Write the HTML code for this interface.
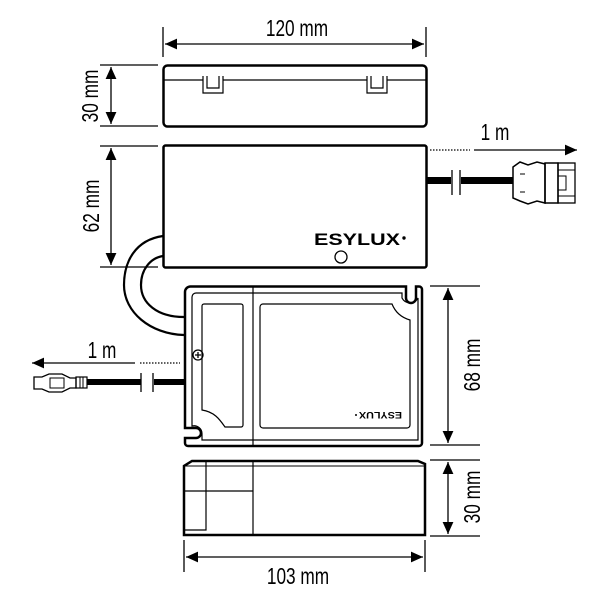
<!DOCTYPE html>
<html><head><style>
html,body{margin:0;padding:0;background:#fff;}
svg{display:block}
text{font-family:"Liberation Sans Narrow","Liberation Sans",sans-serif;fill:#000;}
</style></head><body>
<svg width="600" height="600" viewBox="0 0 600 600" xmlns="http://www.w3.org/2000/svg">
<defs>
<marker id="a" viewBox="0 0 10 10" refX="10" refY="5" markerWidth="12" markerHeight="12" markerUnits="userSpaceOnUse" orient="auto-start-reverse"><path d="M0,0.5 L10,5 L0,9.5z" fill="#000"/></marker>
</defs>
<g fill="none" stroke="#000" stroke-width="1.3">
<line x1="163" y1="27" x2="163" y2="57"/>
<line x1="426" y1="27" x2="426" y2="57"/>
<line x1="165" y1="44" x2="424" y2="44" marker-start="url(#a)" marker-end="url(#a)"/>
<line x1="100" y1="65" x2="158" y2="65"/>
<line x1="100" y1="126" x2="158" y2="126"/>
<line x1="111" y1="67" x2="111" y2="124" marker-start="url(#a)" marker-end="url(#a)"/>
<line x1="100" y1="146" x2="158" y2="146"/>
<line x1="100" y1="267" x2="158" y2="267"/>
<line x1="111" y1="148" x2="111" y2="265" marker-start="url(#a)" marker-end="url(#a)"/>
<line x1="430" y1="286" x2="480" y2="286"/>
<line x1="430" y1="445" x2="480" y2="445"/>
<line x1="448" y1="288" x2="448" y2="443" marker-start="url(#a)" marker-end="url(#a)"/>
<line x1="430" y1="460" x2="480" y2="460"/>
<line x1="430" y1="536" x2="480" y2="536"/>
<line x1="448" y1="462" x2="448" y2="534" marker-start="url(#a)" marker-end="url(#a)"/>
<line x1="184" y1="540" x2="184" y2="572"/>
<line x1="425" y1="540" x2="425" y2="572"/>
<line x1="186" y1="557" x2="423" y2="557" marker-start="url(#a)" marker-end="url(#a)"/>
<line x1="430" y1="150" x2="470" y2="150" stroke-dasharray="1.5,1.5"/>
<line x1="474" y1="150" x2="577" y2="150" marker-end="url(#a)"/>
<line x1="140" y1="363" x2="180" y2="363" stroke-dasharray="1.5,1.5"/>
<line x1="135" y1="363" x2="32" y2="363" marker-end="url(#a)"/>
</g>
<g fill="none" stroke="#000">
<rect x="163.5" y="65.5" width="263" height="61" rx="4" stroke-width="2.5"/>
<line x1="164" y1="80" x2="426" y2="80" stroke-width="1.2"/>
<path d="M203,76 V93 H223 V76 M207,76 V88 H219 V76" stroke-width="1.2" fill="#fff"/>
<path d="M367,76 V93 H387 V76 M371,76 V88 H383 V76" stroke-width="1.2" fill="#fff"/>
<rect x="163.5" y="145.5" width="263" height="122" rx="2" stroke-width="2.5"/>
<circle cx="341" cy="257" r="6" stroke-width="1.3"/>
<path d="M163,236 C135,240 124,262 124,285 C124,312 150,334 184,335" stroke-width="2.2"/>
<path d="M163,256 C150,258 141,270 141,285 C141,303 157,317 184,317" stroke-width="2.2"/>
</g>
<text x="314" y="245" font-weight="bold" font-size="17" textLength="86" lengthAdjust="spacingAndGlyphs" style="font-family:'Liberation Sans',sans-serif">ESYLUX</text>
<circle cx="404" cy="238" r="1.7" fill="#000"/>
<g stroke="#000" fill="none">
<rect x="427" y="177" width="24" height="7" fill="#000" stroke="none"/>
<rect x="461" y="177" width="52" height="7" fill="#000" stroke="none"/>
<line x1="452" y1="170" x2="452" y2="195" stroke-width="1.3"/>
<line x1="460" y1="170" x2="460" y2="195" stroke-width="1.3"/>
<path d="M513,167 L520,162 L528,165 L537,162 L545,164 V203 L537,201 L528,204 L520,201 L513,198 Z" stroke-width="1.5" fill="#fff"/>
<rect x="545" y="163" width="13" height="40" stroke-width="1.5"/>
<rect x="558" y="163" width="17" height="40" stroke-width="1.3"/>
<line x1="558" y1="170" x2="575" y2="170" stroke-width="1"/>
<line x1="558" y1="196" x2="575" y2="196" stroke-width="1"/>
<rect x="558" y="176" width="8" height="14" stroke-width="1"/>
<line x1="520" y1="174" x2="525" y2="174" stroke-width="1"/>
<line x1="520" y1="192" x2="525" y2="192" stroke-width="1"/>
</g>
<g stroke="#000" fill="none">
<rect x="87" y="379" width="54" height="6" fill="#000" stroke="none"/>
<rect x="154" y="379" width="30" height="6" fill="#000" stroke="none"/>
<line x1="141" y1="373" x2="141" y2="392" stroke-width="1.3"/>
<line x1="153" y1="373" x2="153" y2="392" stroke-width="1.3"/>
<path d="M34,377 H42 L49,374 H62 L70,378 H76 V388 H70 L62,392 H49 L42,389 H34 Z" stroke-width="1.3" fill="#fff"/>
<path d="M50,378 H64 V388 H50 Z" stroke-width="1"/>
<rect x="76" y="377" width="11" height="11" stroke-width="1.2"/>
<line x1="80" y1="377" x2="80" y2="388" stroke-width="1"/>
<line x1="83" y1="377" x2="83" y2="388" stroke-width="1"/>
</g>
<g fill="none" stroke="#000">
<path d="M191,286.5 H406 V298 A5,5 0 0 0 416,298 V286.5 H419 A3,3 0 0 1 422,289.5 V443 A3,3 0 0 1 419,446 H188 A3,3 0 0 1 185,443 V438 H196 A5,5 0 0 0 196,428 H185 V292 A5.5,5.5 0 0 1 191,286.5 Z" stroke-width="2.5"/>
<path d="M196,293 H402 V298 A9,9 0 0 0 418,298 V440 H202 V434 A8,8 0 0 0 192,426 V297 A4,4 0 0 1 196,293 Z" stroke-width="1.2"/>
<line x1="253" y1="287" x2="253" y2="445" stroke-width="1.2"/>
<path d="M204,304 H241 A2,2 0 0 1 243,306 V425 A2,2 0 0 1 241,427 H225 C220,420 215,412 202,410 V306 A2,2 0 0 1 204,304 Z" stroke-width="1.2"/>
<path d="M263,304 H392 C396,314 403,318 410,320 V425 A3,3 0 0 1 407,428 H263 A3,3 0 0 1 260,425 V307 A3,3 0 0 1 263,304 Z" stroke-width="1.2"/>
<circle cx="198" cy="355" r="5" stroke-width="1.3"/>
<path d="M195,355 H201 M198,352 V358" stroke-width="1.3"/>
<path d="M184,535 V466 L192,461 H418 L425,464 V535 Z" stroke-width="2.5"/>
<line x1="185" y1="466" x2="424" y2="466" stroke-width="1"/>
<path d="M206,462 V530 H185" stroke-width="1.2"/>
<path d="M185,491 H253" stroke-width="1.2"/>
<line x1="253" y1="461" x2="253" y2="535" stroke-width="1.2"/>
</g>
<text transform="translate(402,412) rotate(180)" font-size="9" font-weight="bold" textLength="43" lengthAdjust="spacingAndGlyphs" style="font-family:'Liberation Sans',sans-serif">ESYLUX</text>
<circle cx="356" cy="415" r="1" fill="#000"/>
<g font-size="23">
<text x="297" y="36" text-anchor="middle" transform="translate(297,0) scale(0.75,1) translate(-297,0)">120 mm</text>
<text x="495" y="140" text-anchor="middle" transform="translate(495,0) scale(0.75,1) translate(-495,0)">1 m</text>
<text x="102" y="358" text-anchor="middle" transform="translate(102,0) scale(0.75,1) translate(-102,0)">1 m</text>
<text x="298" y="584" text-anchor="middle" transform="translate(298,0) scale(0.75,1) translate(-298,0)">103 mm</text>
<text transform="translate(98,96) rotate(-90) scale(0.75,1)" text-anchor="middle">30 mm</text>
<text transform="translate(99,206) rotate(-90) scale(0.75,1)" text-anchor="middle">62 mm</text>
<text transform="translate(480,365) rotate(-90) scale(0.75,1)" text-anchor="middle">68 mm</text>
<text transform="translate(480,497) rotate(-90) scale(0.75,1)" text-anchor="middle">30 mm</text>
</g>
</svg>
</body></html>
